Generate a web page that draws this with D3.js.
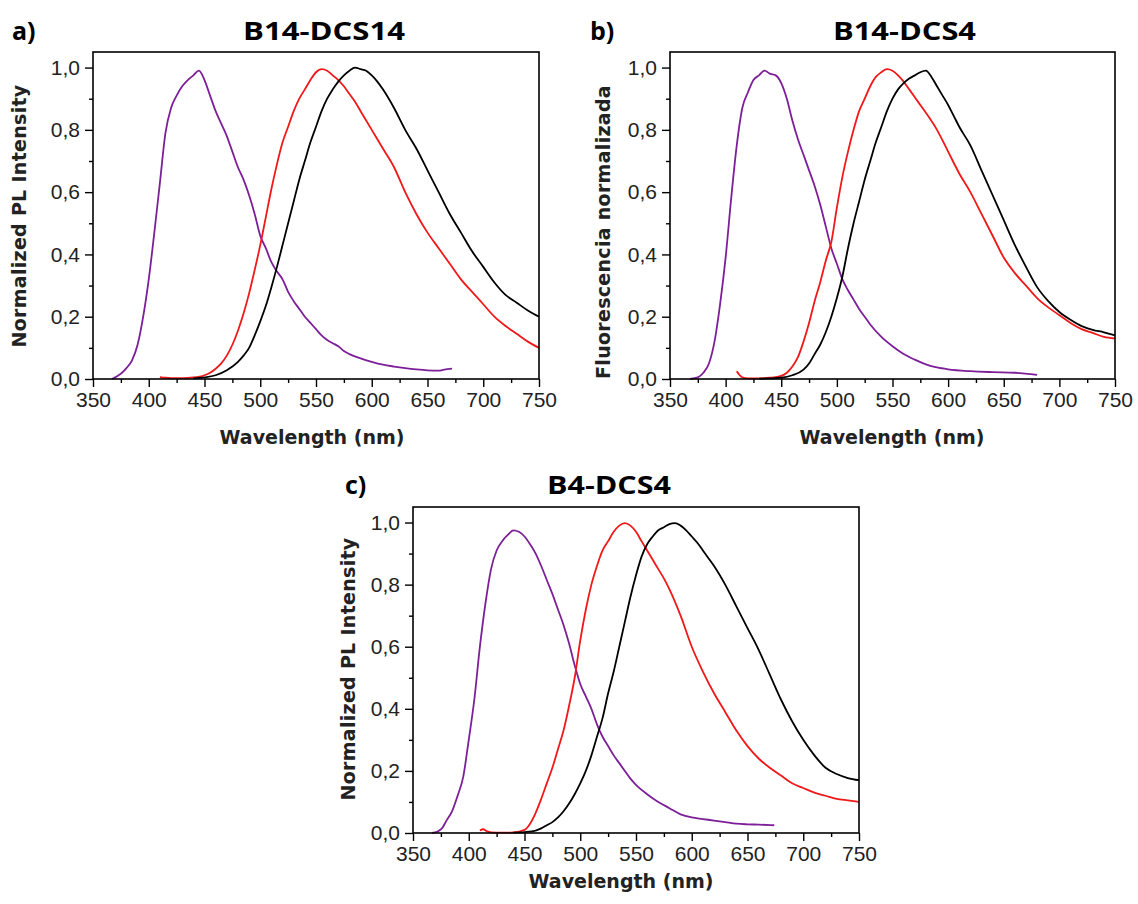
<!DOCTYPE html>
<html>
<head>
<meta charset="utf-8">
<script src="https://cdnjs.cloudflare.com/ajax/libs/d3/7.8.5/d3.min.js"></script>
<style>
  body { margin: 0; background: #fff; }
  svg { display: block; }
</style>
</head>
<body>
<div id="chart"></div>
<script>
// x ticks and y ticks shared by all three panels
const xTicks = [350, 400, 450, 500, 550, 600, 650, 700, 750];
const yTicks = [0, 0.2, 0.4, 0.6, 0.8, 1.0];

// panel a) B14-DCS14 : [wavelength nm, normalized intensity]
const aPurple = [[367,0],[372,0.01],[376,0.02],[380,0.035],[385,0.06],[390,0.11],[395,0.2],[400,0.32],[405,0.47],[410,0.63],[415,0.79],[420,0.87],[425,0.91],[430,0.94],[435,0.96],[440,0.975],[445,0.99],[450,0.96],[455,0.91],[460,0.86],[465,0.82],[470,0.78],[475,0.73],[480,0.68],[485,0.64],[490,0.59],[495,0.53],[500,0.46],[505,0.42],[510,0.375],[515,0.345],[520,0.32],[525,0.28],[530,0.25],[535,0.225],[540,0.2],[545,0.18],[550,0.16],[555,0.14],[560,0.125],[565,0.115],[570,0.105],[575,0.09],[580,0.08],[590,0.066],[600,0.055],[610,0.046],[620,0.04],[630,0.035],[640,0.031],[650,0.028],[660,0.027],[665,0.03],[672,0.033]];
const aRed = [[410,0.006],[415,0.004],[420,0.003],[430,0.003],[440,0.005],[450,0.012],[455,0.02],[460,0.033],[465,0.05],[470,0.075],[475,0.11],[480,0.155],[485,0.21],[490,0.275],[495,0.35],[500,0.43],[505,0.52],[510,0.61],[515,0.69],[520,0.76],[525,0.81],[530,0.86],[535,0.9],[540,0.93],[545,0.96],[550,0.985],[555,0.995],[560,0.99],[565,0.975],[570,0.96],[575,0.94],[580,0.915],[585,0.89],[590,0.86],[595,0.83],[600,0.8],[610,0.74],[620,0.68],[630,0.6],[640,0.53],[650,0.47],[660,0.42],[670,0.37],[680,0.32],[690,0.28],[700,0.24],[710,0.2],[720,0.17],[730,0.145],[740,0.12],[750,0.1]];
const aBlack = [[440,0.002],[450,0.005],[460,0.012],[470,0.028],[480,0.055],[485,0.075],[490,0.1],[495,0.14],[500,0.185],[505,0.235],[510,0.295],[515,0.36],[520,0.43],[525,0.5],[530,0.57],[535,0.64],[540,0.7],[545,0.76],[550,0.81],[555,0.86],[560,0.9],[565,0.93],[570,0.955],[575,0.975],[580,0.99],[585,1.0],[590,0.995],[595,0.99],[600,0.975],[605,0.955],[610,0.93],[620,0.87],[630,0.8],[640,0.74],[650,0.67],[660,0.6],[670,0.53],[680,0.47],[690,0.41],[700,0.36],[710,0.31],[720,0.27],[730,0.245],[740,0.22],[750,0.2]];

// panel b) B14-DCS4
const bPurple = [[368,0],[375,0.005],[380,0.02],[385,0.05],[390,0.12],[395,0.24],[400,0.39],[405,0.58],[410,0.75],[415,0.87],[420,0.92],[425,0.96],[430,0.975],[435,0.99],[440,0.98],[445,0.975],[450,0.95],[455,0.9],[460,0.83],[465,0.77],[470,0.72],[475,0.67],[480,0.62],[485,0.56],[490,0.49],[495,0.42],[500,0.37],[505,0.32],[510,0.285],[515,0.255],[520,0.225],[525,0.2],[530,0.175],[540,0.135],[550,0.105],[560,0.08],[570,0.062],[580,0.047],[590,0.037],[600,0.031],[620,0.025],[640,0.022],[660,0.02],[680,0.013]];
const bRed = [[410,0.025],[412,0.015],[415,0.005],[420,0.002],[430,0.002],[440,0.004],[450,0.01],[455,0.02],[460,0.04],[465,0.07],[470,0.12],[475,0.18],[480,0.25],[485,0.31],[490,0.38],[495,0.44],[500,0.55],[505,0.65],[510,0.73],[515,0.8],[520,0.86],[525,0.9],[530,0.94],[535,0.97],[540,0.985],[545,0.995],[550,0.99],[555,0.975],[560,0.955],[565,0.93],[570,0.905],[575,0.88],[580,0.855],[590,0.8],[600,0.73],[610,0.66],[620,0.6],[630,0.53],[640,0.46],[650,0.39],[660,0.34],[670,0.3],[680,0.26],[690,0.23],[700,0.205],[710,0.18],[720,0.16],[730,0.148],[740,0.135],[750,0.13]];
const bBlack = [[430,0.001],[440,0.002],[450,0.004],[460,0.012],[470,0.03],[475,0.05],[480,0.08],[485,0.11],[490,0.15],[495,0.2],[500,0.26],[505,0.33],[510,0.42],[515,0.5],[520,0.57],[525,0.64],[530,0.7],[535,0.76],[540,0.81],[545,0.86],[550,0.9],[555,0.93],[560,0.95],[565,0.965],[570,0.975],[575,0.985],[580,0.99],[585,0.97],[590,0.94],[595,0.91],[600,0.88],[605,0.845],[610,0.81],[620,0.75],[630,0.67],[640,0.59],[650,0.51],[660,0.43],[670,0.36],[680,0.295],[690,0.25],[700,0.215],[710,0.19],[720,0.17],[730,0.158],[740,0.15],[750,0.14]];

// panel c) B4-DCS4
const cPurple = [[367,0],[372,0.005],[376,0.015],[380,0.04],[385,0.07],[390,0.12],[395,0.18],[400,0.3],[405,0.43],[410,0.6],[415,0.74],[420,0.85],[425,0.91],[430,0.94],[435,0.96],[440,0.975],[445,0.97],[450,0.955],[455,0.93],[460,0.9],[465,0.86],[470,0.815],[475,0.77],[480,0.72],[485,0.67],[490,0.61],[495,0.54],[500,0.48],[505,0.44],[510,0.4],[515,0.35],[520,0.31],[525,0.28],[530,0.25],[535,0.225],[540,0.2],[545,0.175],[550,0.155],[560,0.125],[570,0.1],[580,0.08],[590,0.06],[600,0.05],[610,0.045],[620,0.04],[630,0.035],[640,0.03],[650,0.028],[660,0.027],[674,0.025]];
const cRed = [[410,0.008],[413,0.012],[416,0.006],[420,0.002],[430,0.001],[440,0.002],[450,0.01],[455,0.03],[460,0.065],[465,0.11],[470,0.16],[475,0.21],[480,0.27],[485,0.33],[490,0.41],[495,0.5],[500,0.62],[505,0.72],[510,0.8],[515,0.86],[520,0.91],[525,0.94],[530,0.97],[535,0.99],[540,0.998],[545,0.99],[550,0.97],[555,0.94],[560,0.91],[565,0.88],[570,0.85],[575,0.82],[580,0.785],[590,0.7],[600,0.6],[610,0.52],[620,0.45],[630,0.39],[640,0.33],[650,0.28],[660,0.24],[670,0.21],[680,0.185],[690,0.16],[700,0.145],[710,0.13],[720,0.12],[730,0.11],[740,0.105],[750,0.1]];
const cBlack = [[440,0.001],[450,0.003],[460,0.008],[465,0.015],[470,0.025],[475,0.035],[480,0.05],[485,0.07],[490,0.095],[495,0.125],[500,0.16],[505,0.2],[510,0.25],[515,0.31],[520,0.37],[525,0.45],[530,0.52],[535,0.6],[540,0.68],[545,0.76],[550,0.83],[555,0.89],[560,0.93],[565,0.955],[570,0.975],[575,0.985],[580,0.995],[585,0.998],[590,0.99],[595,0.975],[600,0.955],[605,0.935],[610,0.91],[615,0.885],[620,0.86],[630,0.8],[640,0.73],[650,0.66],[660,0.59],[670,0.51],[680,0.43],[690,0.36],[700,0.3],[710,0.25],[720,0.21],[730,0.19],[740,0.177],[750,0.17]];

const width = 1138;
const height = 904;

const svg = d3.select('#chart')
    .append('svg')
    .attr('width', width)
    .attr('height', height);

function drawPanel(p)
{
    const g = svg.append('g');

    const xScale = d3.scaleLinear()
        .domain([350, 750])
        .range([p.left, p.right]);

    const yScale = d3.scaleLinear()
        .domain([0, 1.05])
        .range([p.bottom, p.top]);

    // minor ticks first, then major ticks with labels
    g.append('g')
        .attr('transform', `translate(0, ${p.bottom})`)
        .call(d3.axisBottom(xScale).tickValues(d3.range(375, 750, 50)).tickSize(4).tickFormat(''))
        .call(a => a.select('.domain').remove());

    g.append('g')
        .attr('transform', `translate(${p.left}, 0)`)
        .call(d3.axisLeft(yScale).tickValues([0.1, 0.3, 0.5, 0.7, 0.9]).tickSize(4).tickFormat(''))
        .call(a => a.select('.domain').remove());

    const xAxis = g.append('g')
        .attr('transform', `translate(0, ${p.bottom})`)
        .call(d3.axisBottom(xScale).tickValues(xTicks).tickSize(8).tickPadding(5));
    xAxis.select('.domain').remove();

    const yAxis = g.append('g')
        .attr('transform', `translate(${p.left}, 0)`)
        .call(d3.axisLeft(yScale).tickValues(yTicks).tickSize(8).tickPadding(5)
            .tickFormat(d => d3.format('.1f')(d).replace('.', ',')));
    yAxis.select('.domain').remove();

    g.selectAll('.tick line')
        .attr('stroke', '#000')
        .attr('stroke-width', 1.4);

    g.selectAll('.tick text')
        .attr('fill', '#222')
        .style('font-family', '"Liberation Sans", Arial, sans-serif')
        .style('font-size', '21px');

    // curves
    const line = d3.line()
        .x(d => xScale(d[0]))
        .y(d => yScale(d[1]))
        .curve(d3.curveMonotoneX);

    p.series.forEach(s => {
        g.append('path')
            .datum(s.data)
            .attr('fill', 'none')
            .attr('stroke', s.color)
            .attr('stroke-width', 1.8)
            .attr('stroke-linejoin', 'round')
            .attr('d', line);
    });

    // frame
    g.append('rect')
        .attr('x', p.left)
        .attr('y', p.top)
        .attr('width', p.right - p.left)
        .attr('height', p.bottom - p.top)
        .attr('fill', 'none')
        .attr('stroke', '#000')
        .attr('stroke-width', 1.6);

    // titles
    g.append('text')
        .attr('x', p.tagX)
        .attr('y', p.titleY)
        .style('font-family', '"Open Sans", sans-serif')
        .style('font-weight', 'bold')
        .style('font-size', '25px')
        .text(p.tag);

    g.append('text')
        .attr('x', p.titleX)
        .attr('y', p.titleY)
        .attr('textLength', p.titleW)
        .attr('lengthAdjust', 'spacingAndGlyphs')
        .style('font-family', '"Open Sans", sans-serif')
        .style('font-weight', 'bold')
        .style('font-size', '25px')
        .text(p.title);

    // axis labels
    g.append('text')
        .attr('x', p.xLabelX)
        .attr('y', p.xLabelY)
        .attr('text-anchor', 'middle')
        .attr('fill', '#222')
        .style('font-family', '"DejaVu Sans", sans-serif')
        .style('font-weight', 'bold')
        .style('font-size', '19px')
        .text('Wavelength (nm)');

    g.append('text')
        .attr('transform', `translate(${p.yLabelX}, ${p.yLabelY}) rotate(-90)`)
        .attr('text-anchor', 'middle')
        .attr('fill', '#222')
        .style('font-family', '"DejaVu Sans", sans-serif')
        .style('font-weight', 'bold')
        .style('font-size', '19px')
        .style('letter-spacing', '0.3px')
        .text(p.yLabel);
}

const purple = '#7d1f98';
const red = '#f01818';
const black = '#000';

drawPanel({
    left: 93, right: 539, top: 52, bottom: 379,
    tag: 'a)', tagX: 12, title: 'B14-DCS14', titleX: 243, titleY: 40, titleW: 162,
    xLabelX: 312, xLabelY: 444,
    yLabel: 'Normalized PL Intensity', yLabelX: 26, yLabelY: 216,
    series: [
        { data: aPurple, color: purple },
        { data: aRed, color: red },
        { data: aBlack, color: black }
    ]
});

drawPanel({
    left: 670, right: 1115, top: 52, bottom: 379,
    tag: 'b)', tagX: 590, title: 'B14-DCS4', titleX: 833, titleY: 40, titleW: 143,
    xLabelX: 892, xLabelY: 444,
    yLabel: 'Fluorescencia normalizada', yLabelX: 610, yLabelY: 232,
    series: [
        { data: bPurple, color: purple },
        { data: bRed, color: red },
        { data: bBlack, color: black }
    ]
});

drawPanel({
    left: 413, right: 859, top: 507, bottom: 833,
    tag: 'c)', tagX: 345, title: 'B4-DCS4', titleX: 547, titleY: 494, titleW: 124,
    xLabelX: 621, xLabelY: 888,
    yLabel: 'Normalized PL Intensity', yLabelX: 355, yLabelY: 669,
    series: [
        { data: cPurple, color: purple },
        { data: cRed, color: red },
        { data: cBlack, color: black }
    ]
});
</script>
</body>
</html>
